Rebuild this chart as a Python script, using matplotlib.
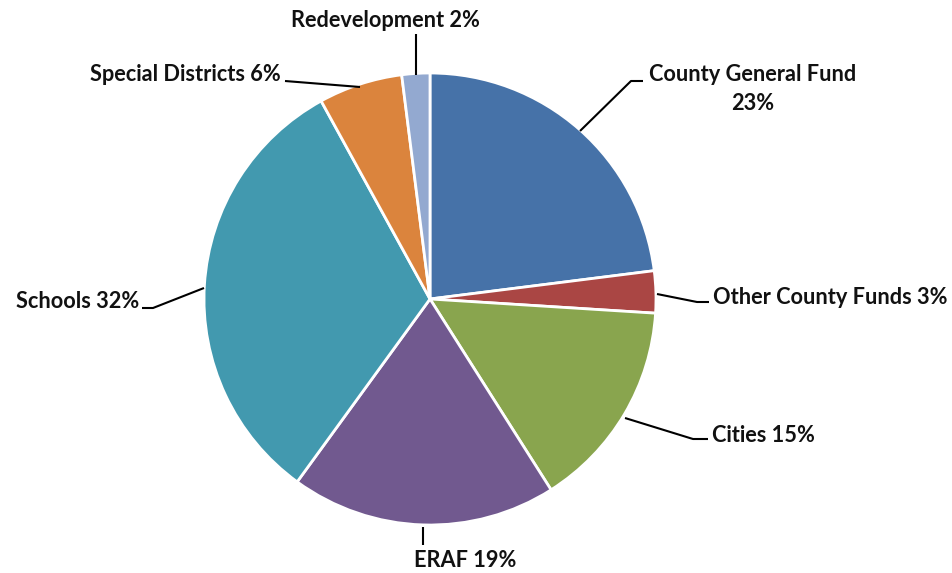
import matplotlib.pyplot as plt

W, H = 953, 573

labels = [
    "County General Fund",
    "Other County Funds",
    "Cities",
    "ERAF",
    "Schools",
    "Special Districts",
    "Redevelopment",
]
shares = [23, 3, 15, 19, 32, 6, 2]
colors = ["#4672A8", "#AA4644", "#89A54E", "#71598F", "#4299AF", "#DB843D", "#93A9D0"]


def Y(y):
    # layout below is measured from the top edge
    return H - y


fig = plt.figure(figsize=(W / 100, H / 100), dpi=100)
ax = fig.add_axes([0, 0, 1, 1])

ax.pie(
    shares,
    colors=colors,
    startangle=90,
    counterclock=False,
    center=(430, Y(299)),
    radius=226,
    wedgeprops=dict(edgecolor="white", linewidth=2),
)
ax.set_xlim(0, W)
ax.set_ylim(0, H)
ax.set_aspect("equal")
ax.axis("off")

font = dict(family="Lato", weight="bold", size=15.7, color="#111111")

# leader lines: (points), then label anchor and alignment
callouts = [
    ([(580, 131), (631, 81), (643, 81)], (753, 89), "center", f"{labels[0]}\n{shares[0]}%"),
    ([(657, 294), (697, 302), (709, 302)], (713, 297), "left", f"{labels[1]} {shares[1]}%"),
    ([(625, 418), (693, 439), (708, 439)], (712, 435), "left", f"{labels[2]} {shares[2]}%"),
    ([(423, 527), (423, 545)], (414, 561), "left", f"{labels[3]} {shares[3]}%"),
    ([(204, 288), (153, 308), (142, 308)], (139, 301), "right", f"{labels[4]} {shares[4]}%"),
    ([(360, 87), (285, 81)], (281, 74), "right", f"{labels[5]} {shares[5]}%"),
    ([(416, 75), (416, 34)], (385, 20), "center", f"{labels[6]} {shares[6]}%"),
]

for pts, (tx, ty), ha, text in callouts:
    xs = [p[0] for p in pts]
    ys = [Y(p[1]) for p in pts]
    ax.plot(xs, ys, color="black", linewidth=1.5, solid_capstyle="butt")
    ax.text(tx, Y(ty), text, ha=ha, va="center", linespacing=1.45, **font)

fig.savefig("out.png", dpi=100, facecolor="white")
